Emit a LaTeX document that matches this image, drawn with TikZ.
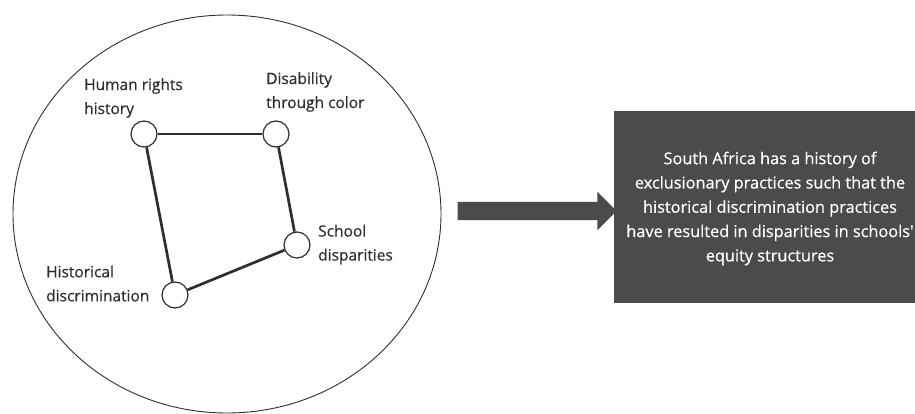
\documentclass[tikz,border=0pt]{standalone}
\usepackage{fontspec}
\setmainfont{Open Sans}
\newfontfamily\inkfont[FakeBold=0.5]{Open Sans}
\usetikzlibrary{shapes.arrows}
\definecolor{boxgray}{HTML}{4B4B4B}
\definecolor{inkgray}{HTML}{2E2E2E}
\begin{document}
\begin{tikzpicture}[x=1pt,y=-1pt]
		\useasboundingbox (0,0) rectangle (915,414);

		\draw [inkgray, line width=0.9pt] (227,214) ellipse [x radius=214, y radius=199];

		\begin{scope}[every node/.style={circle,draw=inkgray,line width=1.2pt,fill=white,minimum size=26pt,inner sep=0pt}]
			\node (H) at (144,134) {};
			\node (D) at (276,134) {};
			\node (S) at (297,245) {};
			\node (R) at (175,295) {};
		\end{scope}

		\begin{scope}[every edge/.style={draw=inkgray, line width=2.7pt}]
			\path [-] (H) edge (D);
			\path [-] (D) edge (S);
			\path [-] (S) edge (R);
			\path [-] (R) edge (H);
		\end{scope}

		\begin{scope}[every node/.style={text=inkgray,font=\inkfont\fontsize{15.5}{24}\selectfont,align=left,anchor=west,inner sep=0pt}]
			\node (Hl) at (84,98) {Human rights\\history};
			\node (Dl) at (266,92) {Disability\\through color};
			\node (Sl) at (318,244.5) {School\\disparities};
			\node (Rl) at (46,283.5) {Historical\\discrimination};
		\end{scope}

		\node (arrow) [single arrow, fill=boxgray, draw=none, inner xsep=0pt, inner ysep=9pt, minimum height=159pt, single arrow head extend=10pt] at (532.5,211) {};

		\fill [boxgray] (614,111) rectangle (926,303);
		\node (summary) [text=white, align=center, font=\inkfont\fontsize{16.3}{24.3}\selectfont] at (770,208.5) {South Africa has a history of\\exclusionary practices such that the\\historical discrimination practices\\have resulted in disparities in schools'\\equity structures};

	\end{tikzpicture}
\end{document}
